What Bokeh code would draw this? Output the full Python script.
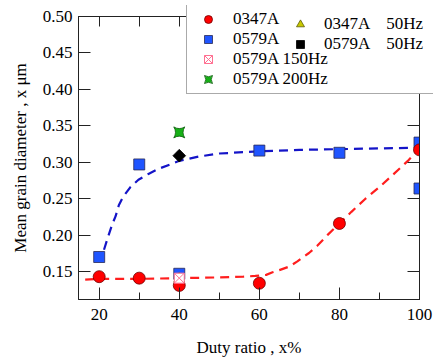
import math
from bokeh.plotting import figure
from bokeh.layouts import column
from bokeh.models import (Range1d, LinearAxis, SingleIntervalTicker, FixedTicker,
                          PrintfTickFormatter, CustomJSTickFormatter, Legend, LegendItem)
from bokeh.embed import file_html
from bokeh.resources import INLINE

# ---- data ----
duty_0347 = [20, 30, 40, 60, 80, 100]
size_0347 = [0.143, 0.141, 0.131, 0.134, 0.216, 0.317]

duty_0579 = [20, 30, 40, 60, 80, 100, 100]
size_0579 = [0.170, 0.297, 0.147, 0.316, 0.313, 0.327, 0.264]

duty_0347_50 = [40]
size_0347_50 = [0.140]
duty_0579_50 = [40]
size_0579_50 = [0.309]
duty_0579_150 = [40]
size_0579_150 = [0.141]
duty_0579_200 = [40]
size_0579_200 = [0.341]

fit_0579_x = [21.2, 22, 23.2, 24.1, 24.9, 25.9, 27.8, 29.8, 32.3, 34.8, 37.7, 40, 45, 50, 60, 70, 80, 90, 100]
fit_0579_y = [0.180, 0.194, 0.214, 0.226, 0.241, 0.252, 0.266, 0.276, 0.284, 0.291, 0.297, 0.302, 0.308,
              0.312, 0.315, 0.317, 0.318, 0.319, 0.320]

fit_0347_x = [16.5, 20, 30, 40, 50, 56, 59, 61.7, 63.3, 65, 67.5, 69.5, 72.4, 74.4, 77, 80, 83, 86.5, 90, 93, 97.3, 99.5]
fit_0347_y = [0.139, 0.140, 0.140, 0.141, 0.142, 0.143, 0.144, 0.1455, 0.149, 0.152, 0.157, 0.164, 0.1755,
              0.185, 0.200, 0.216, 0.232, 0.250, 0.266, 0.281, 0.303, 0.316]

y_ticks = [0.15, 0.20, 0.25, 0.30, 0.35, 0.40, 0.45, 0.50]
x_tick_step = 20
top_tick_step = 10

FONT = "Liberation Serif"
AX = "#222222"

# marker styles (shared by plot and legend)
ST_SQ = dict(marker="square", size=11, fill_color="#1f55ff", line_color="#2a2a55", line_width=0.8)
ST_CI = dict(marker="circle", size=12, fill_color="#ff0000", line_color="#700000", line_width=0.8)
ST_TR = dict(marker="triangle", size=11, fill_color="#c8c800", line_color="#5a5a00", line_width=0.8)
ST_DI = dict(marker="square", size=9, angle=math.pi / 4, fill_color="black", line_color="black", line_width=0.8)
ST_HG = dict(marker="square_x", size=10, fill_color="white", line_color="#ff6f91", line_width=1)
ST_BT = dict(marker="square_pin", size=11, fill_color="#16b016", line_color="#0a5a0a", line_width=0.8)

p = figure(width=434, height=359, output_backend="svg", toolbar_location=None,
           x_range=Range1d(14.83, 100), y_range=Range1d(0.1117, 0.50),
           min_border_left=78, min_border_right=15, min_border_top=16, min_border_bottom=59,
           background_fill_color="white", border_fill_color="white")
p.frame_align = False
p.grid.visible = False
p.outline_line_color = AX

xa = p.xaxis[0]
xa.ticker = SingleIntervalTicker(interval=x_tick_step, num_minor_ticks=2)
xa.axis_label = "Duty ratio , x%"
ya = p.yaxis[0]
ya.ticker = FixedTicker(ticks=y_ticks)
ya.formatter = PrintfTickFormatter(format="%.2f")
ya.axis_label = "Mean grain diameter , x \u03bcm"

for ax in (xa, ya):
    ax.axis_line_color = AX
    ax.major_tick_line_color = AX
    ax.minor_tick_line_color = AX
    ax.major_tick_in = 12
    ax.major_tick_out = 0
    ax.minor_tick_in = 7
    ax.minor_tick_out = 0
    ax.major_label_text_font = FONT
    ax.major_label_text_font_size = "17px"
    ax.major_label_text_color = "black"
    ax.axis_label_text_font = FONT
    ax.axis_label_text_font_size = "17px"
    ax.axis_label_text_font_style = "normal"
    ax.axis_label_text_color = "black"
xa.major_label_standoff = 9
xa.axis_label_standoff = 15
ya.major_label_standoff = 6
ya.axis_label_standoff = 10
ya.minor_tick_in = 0

blank = CustomJSTickFormatter(code="return ''")
top = LinearAxis(ticker=SingleIntervalTicker(interval=top_tick_step, num_minor_ticks=0),
                 formatter=blank, major_label_text_font_size="1px", major_label_standoff=0,
                 major_tick_in=10, major_tick_out=0, minor_tick_in=0, minor_tick_out=0,
                 axis_line_color=AX, major_tick_line_color=AX)
p.add_layout(top, "above")
right = LinearAxis(ticker=FixedTicker(ticks=y_ticks),
                   formatter=blank, major_label_text_font_size="1px", major_label_standoff=0,
                   major_tick_in=12, major_tick_out=0, minor_tick_in=0, minor_tick_out=0,
                   axis_line_color=AX, major_tick_line_color=AX)
p.add_layout(right, "right")

# fitted curves
p.line(fit_0579_x, fit_0579_y, line_color="#1414c8", line_width=2.2, line_dash="9 6")
p.line(fit_0347_x, fit_0347_y, line_color="#ff1e1e", line_width=2.2, line_dash="9 6")

# markers
p.scatter(duty_0579, size_0579, **ST_SQ)
p.scatter(duty_0347, size_0347, **ST_CI)
p.scatter(duty_0347_50, size_0347_50, **ST_TR)
p.scatter(duty_0579_50, size_0579_50, **ST_DI)
p.scatter(duty_0579_150, size_0579_150, **ST_HG)
p.scatter(duty_0579_200, size_0579_200, **ST_BT)

# ---- legend, drawn in an overlaid figure so that it may pass over the frame edge ----
lf = figure(width=248, height=90, output_backend="svg", toolbar_location=None,
            x_range=Range1d(0, 1), y_range=Range1d(0, 1),
            x_axis_type=None, y_axis_type=None, min_border=0,
            background_fill_alpha=0, border_fill_alpha=0, outline_line_color=None,
            styles={"position": "absolute", "left": "185px", "top": "5px"})
lf.frame_align = False
lf.grid.visible = False
l_ci = lf.scatter(duty_0347, size_0347, visible=False, **ST_CI)
l_sq = lf.scatter(duty_0579, size_0579, visible=False, **ST_SQ)
l_hg = lf.scatter(duty_0579_150, size_0579_150, visible=False, **ST_HG)
l_bt = lf.scatter(duty_0579_200, size_0579_200, visible=False, **ST_BT)
l_tr = lf.scatter(duty_0347_50, size_0347_50, visible=False, **ST_TR)
l_di = lf.scatter(duty_0579_50, size_0579_50, visible=False, **ST_DI)

common = dict(label_text_font=FONT, label_text_font_size="17px", label_text_color="black",
              glyph_width=34, glyph_height=20, spacing=0, padding=4, margin=0,
              label_height=20)
legA = Legend(items=[LegendItem(label="0347A", renderers=[l_ci]),
                     LegendItem(label="0579A", renderers=[l_sq]),
                     LegendItem(label="0579A 150Hz", renderers=[l_hg]),
                     LegendItem(label="0579A 200Hz", renderers=[l_bt])],
              location=(1, 1), label_standoff=8, label_width=196,
              border_line_color="#555555", border_line_width=1,
              background_fill_color="white", background_fill_alpha=1.0, **common)
legB = Legend(items=[LegendItem(label="0347A    50Hz", renderers=[l_tr]),
                     LegendItem(label="0579A    50Hz", renderers=[l_di])],
              location=(98, 41), label_standoff=7, label_width=20,
              border_line_color=None, background_fill_alpha=0.0, **common)
lf.add_layout(legA)
lf.add_layout(legB)

page = column(p, lf)
open("out.html", "w").write(file_html(page, INLINE))
